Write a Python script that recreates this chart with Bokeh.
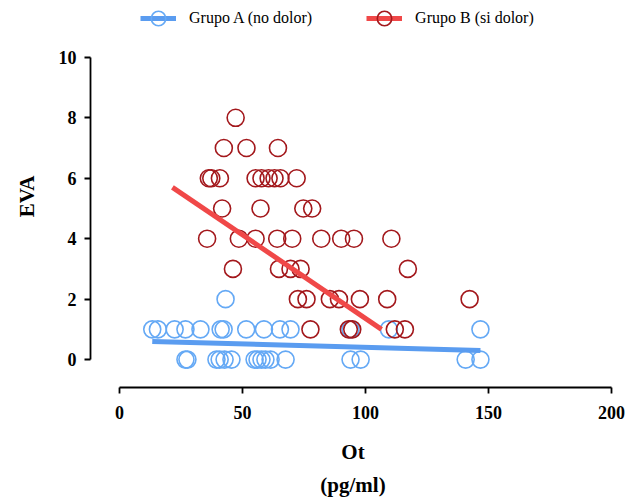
from bokeh.plotting import figure
from bokeh.models import Legend, LegendItem, Range1d, FixedTicker
from bokeh.embed import file_html
from bokeh.resources import INLINE

# ---- data ----
grupo_a_ot = [43.1,
              13.3, 15.6, 22.4, 26.8, 32.9, 41.1, 42.3, 51.5, 58.7, 65.2, 69.5, 93.9, 109.5, 146.7,
              26.8, 27.6, 39.4, 40.7, 42.7, 45.5, 54.9, 56.1, 57.7, 59.3, 61.4, 67.5, 93.9, 98.0, 140.7, 146.7]
grupo_a_eva = [2] + [1] * 14 + [0] * 16

grupo_b_ot = [47.2,
              42.4, 51.6, 64.4,
              36.3, 37.3, 40.8, 55.3, 57.7, 60.6, 63.0, 65.4, 72.0,
              41.7, 57.3, 74.7, 78.3,
              35.6, 48.5, 55.3, 64.1, 70.2, 82.0, 90.1, 95.3, 110.5,
              46.1, 64.8, 69.5, 73.6, 117.2,
              72.5, 76.0, 85.5, 89.2, 97.7, 108.8, 142.3,
              77.6, 93.2, 94.6, 111.9, 116.0]
grupo_b_eva = [8] + [7] * 3 + [6] * 9 + [5] * 4 + [4] * 9 + [3] * 5 + [2] * 7 + [1] * 5

fit_a_x = [13.3, 146.7]
fit_a_y = [0.60, 0.30]
fit_b_x = [21.5, 106.5]
fit_b_y = [5.70, 1.00]

x_ticks = [0, 50, 100, 150, 200]
y_ticks = [0, 2, 4, 6, 8, 10]

label_a = "Grupo A (no dolor)"
label_b = "Grupo B (si dolor)"

# ---- styling ----
BLUE_PT = "#65a9f5"
RED_PT = "#a3181c"
BLUE_LN = "#5a9cf0"
RED_LN = "#f04848"
FONT = "Liberation Serif"

p = figure(width=631, height=500, output_backend="svg", toolbar_location=None,
           x_range=Range1d(-11.8, 201.6), y_range=Range1d(-0.924, 11.716),
           min_border_left=90, min_border_right=16, min_border_top=5,
           min_border_bottom=110)
p.grid.visible = False
p.outline_line_color = None
p.background_fill_color = "white"
p.border_fill_color = "white"

sa = p.scatter(grupo_a_ot, grupo_a_eva, size=17, marker="circle", fill_color=None,
               line_color=BLUE_PT, line_width=1.6)
sb = p.scatter(grupo_b_ot, grupo_b_eva, size=17, marker="circle", fill_color=None,
               line_color=RED_PT, line_width=1.6)
la = p.line(fit_a_x, fit_a_y, line_color=BLUE_LN, line_width=5)
lb = p.line(fit_b_x, fit_b_y, line_color=RED_LN, line_width=5)

for ax, ticks, bounds in ((p.xaxis[0], x_ticks, (0, 200)), (p.yaxis[0], y_ticks, (0, 10))):
    ax.ticker = FixedTicker(ticks=ticks)
    ax.bounds = bounds
    ax.axis_line_width = 1.8
    ax.axis_line_color = "black"
    ax.major_tick_line_width = 1.8
    ax.major_tick_in = 0
    ax.major_tick_out = 6
    ax.minor_tick_line_color = None
    ax.major_label_text_font = FONT
    ax.major_label_text_font_style = "bold"
    ax.major_label_text_font_size = "18px"
    ax.major_label_text_color = "black"
    ax.axis_label_text_font = FONT
    ax.axis_label_text_font_style = "bold"
    ax.axis_label_text_font_size = "21px"
    ax.axis_label_text_color = "black"

p.xaxis.axis_label = "Ot\n(pg/ml)"
p.xaxis.axis_label_text_line_height = 1.4
p.xaxis.axis_label_standoff = 18
p.xaxis.major_label_standoff = 12
p.yaxis.axis_label = "EVA"
p.yaxis.axis_label_standoff = 17
p.yaxis.major_label_standoff = 8

legend = Legend(items=[LegendItem(label=label_a, renderers=[la, sa]),
                       LegendItem(label=label_b, renderers=[lb, sb])],
                orientation="horizontal", location=(50, 349),
                border_line_color=None, background_fill_alpha=0,
                label_text_font=FONT, label_text_font_size="16px",
                label_text_color="black", glyph_width=36, glyph_height=40,
                spacing=54, padding=0, margin=0, label_standoff=13)
p.add_layout(legend, "center")

open("out.html", "w").write(file_html(p, INLINE))
